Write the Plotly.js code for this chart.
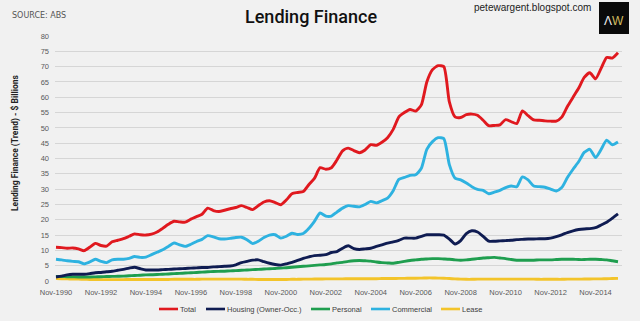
<!DOCTYPE html>
<html>
<head>
<meta charset="utf-8">
<script src="https://cdn.plot.ly/plotly-3.0.1.min.js"></script>
<style>
  html, body { margin: 0; padding: 0; background: #f1f1f1; }
  #chart { width: 640px; height: 321px; }
</style>
</head>
<body>
<div id="chart"></div>
<script>
// Quarterly observations, Nov-1990 .. Nov-2015 ($ billions, trend)
const startYear = 1990, startMonth = 11, nPoints = 101;
const dates = [];
for (let i = 0; i < nPoints; i++) {
  const m0 = (startMonth - 1) + i * 3;
  const y = startYear + Math.floor(m0 / 12);
  const m = (m0 % 12) + 1;
  dates.push(y + '-' + String(m).padStart(2, '0') + '-01');
}

const seriesNames = ['Total', 'Housing (Owner-Occ.)', 'Personal', 'Commercial', 'Lease'];

const total = [
  11.0, 10.9, 10.7, 10.8,  10.5, 9.9, 11.0, 12.3,  11.6, 11.4, 12.8, 13.3,
  13.8, 14.6, 15.4, 15.1,  15.0, 15.3, 16.0, 17.2,  18.5, 19.5, 19.3, 19.2,
  20.2, 21.0, 21.8, 23.8,  23.0, 22.7, 23.1, 23.6,  24.0, 24.6, 24.0, 23.3,
  24.6, 25.8, 26.2, 25.6,  24.9, 26.5, 28.5, 28.9,  29.2, 31.5, 33.5, 37.0,
  36.5, 37.0, 39.5, 42.5,  43.4, 42.6, 41.9, 42.8,  44.5, 44.3, 45.3, 46.8,
  49.5, 53.6, 55.0, 56.0,  55.5, 57.5, 65.0, 69.0,  70.3, 70.0, 58.5, 53.6,
  53.4, 54.3, 54.5, 54.1,  52.5, 50.7, 50.8, 51.0,  52.7, 52.0, 51.4, 55.5,
  54.0, 52.6, 52.5, 52.3,  52.2, 52.2, 53.5, 57.0,  60.0, 63.0, 66.5, 68.0,
  66.0, 69.5, 73.0, 72.8,  74.5
];

const housing = [
  1.3, 1.6, 2.0, 2.2,  2.2, 2.2, 2.4, 2.7,  2.8, 3.0, 3.2, 3.5,
  3.8, 4.2, 4.5, 4.0,  3.6, 3.6, 3.6, 3.7,  3.8, 3.9, 4.0, 4.1,
  4.2, 4.3, 4.4, 4.4,  4.6, 4.7, 4.8, 4.9,  5.3, 6.0, 6.4, 6.8,
  6.9, 6.3, 5.8, 5.4,  5.2, 5.6, 6.1, 6.7,  7.4, 7.9, 8.3, 8.4,
  8.6, 9.3, 9.6, 10.7,  11.5, 10.6, 10.3, 10.5,  10.7, 11.3, 11.8, 12.4,
  12.8, 13.3, 14.0, 14.0,  14.0, 14.6, 15.1, 15.1,  15.1, 15.0, 13.7, 12.1,
  13.2, 15.5, 16.4, 16.0,  14.6, 13.0, 13.0, 13.1,  13.2, 13.3, 13.5, 13.6,
  13.7, 13.7, 13.8, 13.8,  14.0, 14.5, 15.1, 15.8,  16.4, 16.8, 17.0, 17.1,
  17.4, 18.3, 19.2, 20.5,  21.9
];

const personal = [
  1.5, 1.45, 1.4, 1.35,  1.3, 1.3, 1.3, 1.35,  1.4, 1.45, 1.5, 1.55,
  1.6, 1.7, 1.8, 1.9,  2.0, 2.05, 2.1, 2.2,  2.3, 2.4, 2.5, 2.6,
  2.7, 2.8, 2.9, 3.0,  3.1, 3.15, 3.2, 3.3,  3.4, 3.5, 3.6, 3.7,
  3.8, 3.9, 4.0, 4.1,  4.2, 4.35, 4.5, 4.65,  4.8, 4.95, 5.1, 5.25,
  5.4, 5.6, 5.9, 6.1,  6.4, 6.6, 6.7, 6.6,  6.5, 6.2, 6.0, 5.9,
  5.8, 6.1, 6.4, 6.7,  6.9, 7.1, 7.2, 7.3,  7.3, 7.2, 7.1, 6.9,
  6.8, 6.9, 7.1, 7.3,  7.5, 7.6, 7.7, 7.5,  7.3, 7.0, 6.8, 6.8,
  6.8, 6.8, 6.9, 6.9,  6.9, 7.0, 7.1, 7.1,  7.1, 7.0, 7.0, 7.1,
  7.1, 7.0, 6.9, 6.6,  6.3
];

const commercial = [
  7.1, 6.9, 6.6, 6.4,  6.3, 5.6, 6.2, 7.1,  6.4, 6.0, 6.9, 7.1,
  7.1, 7.4, 8.0, 7.7,  7.8, 8.6, 9.4, 10.2,  11.3, 12.4, 11.8, 11.3,
  12.0, 12.9, 13.6, 14.8,  14.4, 13.8, 13.7, 13.9,  14.2, 14.3, 13.5, 12.2,
  13.0, 14.2, 15.0, 15.1,  14.0, 14.6, 15.6, 15.2,  15.5, 17.2, 19.5, 22.2,
  21.2, 21.2, 22.5, 23.8,  24.6, 24.4, 24.2, 25.0,  26.0, 25.5, 26.2, 27.1,
  29.5, 33.2, 33.8, 34.5,  34.7, 36.8, 43.0, 45.5,  46.8, 46.5, 38.0, 33.6,
  33.0, 32.0, 30.8, 29.9,  29.6, 28.5, 29.0, 29.6,  30.5, 31.0, 30.8, 34.0,
  33.0, 31.0, 30.8, 30.6,  30.0, 29.4, 30.5, 33.8,  36.5, 39.0, 42.0, 43.0,
  40.3, 43.0, 46.0, 44.5,  45.4
];

const lease = [
  0.8, 0.75, 0.7, 0.65,  0.6, 0.55, 0.5, 0.5,  0.45, 0.45, 0.45, 0.45,
  0.45, 0.5, 0.5, 0.5,  0.5, 0.5, 0.5, 0.5,  0.5, 0.55, 0.55, 0.55,
  0.55, 0.55, 0.6, 0.6,  0.6, 0.6, 0.6, 0.6,  0.6, 0.6, 0.55, 0.55,
  0.5, 0.5, 0.5, 0.5,  0.5, 0.5, 0.55, 0.55,  0.6, 0.6, 0.65, 0.65,
  0.7, 0.7, 0.7, 0.7,  0.75, 0.75, 0.75, 0.75,  0.75, 0.75, 0.8, 0.8,
  0.8, 0.85, 0.85, 0.9,  0.9, 0.95, 1.0, 1.0,  0.95, 0.9, 0.8, 0.7,
  0.6, 0.55, 0.55, 0.6,  0.6, 0.6, 0.6, 0.6,  0.6, 0.6, 0.6, 0.6,
  0.6, 0.6, 0.55, 0.55,  0.55, 0.55, 0.55, 0.6,  0.6, 0.6, 0.65, 0.65,
  0.7, 0.7, 0.75, 0.8,  0.85
];

const yTickVals = [0, 5, 10, 15, 20, 25, 30, 35, 40, 45, 50, 55, 60, 65, 70, 75, 80];

const colors = ['#e0191f', '#0f1c52', '#1f9e4f', '#2eb2e0', '#f3c42a'];
const values = [total, housing, personal, commercial, lease];

const labelFont = 'Liberation Sans, Arial, sans-serif';

// plot-area geometry (pixels) used to place the decorations
const L = 55, R = 622, T = 36, B = 281;
const px = x => (x - L) / (R - L);
const py = y => (B - y) / (B - T);

const traces = values.map((v, i) => ({
  type: 'scatter',
  mode: 'lines',
  name: seriesNames[i],
  x: dates,
  y: v,
  line: { color: colors[i], width: 2.9, shape: 'spline', smoothing: 0.6 },
  showlegend: false,
  hoverinfo: 'x+y+name'
}));
const ordered = [traces[4], traces[2], traces[1], traces[3], traces[0]];

// legend key row under the axis (centred on the chart)
const legendLineX = [159, 206, 311, 371, 441];
const legendLen = 19, legendY = 309;
const legendShapes = seriesNames.map((n, i) => ({
  type: 'line', xref: 'paper', yref: 'paper',
  x0: px(legendLineX[i]), x1: px(legendLineX[i] + legendLen),
  y0: py(legendY), y1: py(legendY),
  line: { color: colors[i], width: 2.6 }
}));
const legendTexts = seriesNames.map((n, i) => ({
  text: n, xref: 'paper', yref: 'paper',
  x: px(legendLineX[i] + legendLen), y: py(legendY),
  xanchor: 'left', yanchor: 'middle', showarrow: false,
  font: { family: labelFont, size: 7.5, color: '#404040' }
}));

const layout = {
  width: 640,
  height: 321,
  paper_bgcolor: '#f1f1f1',
  plot_bgcolor: '#f1f1f1',
  margin: { l: L, r: 640 - R, t: T, b: 321 - B, autoexpand: false },
  showlegend: false,
  xaxis: {
    type: 'date',
    range: ['1990-10-16', '2016-01-05'],
    tick0: '1990-11-01',
    dtick: 'M24',
    tickformat: '%b-%Y',
    showgrid: false,
    zeroline: false,
    showline: false,
    ticks: '',
    ticklabelstandoff: 5,
    tickfont: { family: labelFont, size: 7.5, color: '#595959' },
    fixedrange: true
  },
  yaxis: {
    range: [0, 80],
    tickvals: yTickVals,
    ticktext: yTickVals.map(String),
    showgrid: true,
    gridcolor: '#d6d6d6',
    gridwidth: 1,
    zeroline: false,
    showline: false,
    ticks: '',
    ticklabelstandoff: 5,
    tickfont: { family: labelFont, size: 7.5, color: '#595959' },
    fixedrange: true
  },
  shapes: [
    { type: 'rect', xref: 'paper', yref: 'paper',
      x0: px(599), x1: px(629), y0: py(34), y1: py(2),
      fillcolor: '#0a0a0a', line: { width: 0 } }
  ].concat(legendShapes),
  annotations: [
    { text: 'Lending Finance', xref: 'paper', yref: 'paper',
      x: px(311), y: py(17), xanchor: 'center', yanchor: 'middle',
      showarrow: false, font: { family: 'Roboto, Arial, sans-serif', size: 18, color: '#111111', weight: 500 } },
    { text: 'SOURCE: ABS', xref: 'paper', yref: 'paper',
      x: px(10), y: py(15), xanchor: 'left', yanchor: 'middle',
      showarrow: false, font: { family: 'DejaVu Sans, sans-serif', size: 8, color: '#555555' } },
    { text: 'petewargent.blogspot.com', xref: 'paper', yref: 'paper',
      x: px(593), y: py(8), xanchor: 'right', yanchor: 'middle',
      showarrow: false, font: { family: 'Liberation Sans, Arial, sans-serif', size: 10, color: '#222222' } },
    { text: '<span style="color:#eeeeee">Λ</span><span style="color:#d2bd5e">W</span>', xref: 'paper', yref: 'paper',
      x: px(614), y: py(21), xanchor: 'center', yanchor: 'middle',
      showarrow: false, font: { family: 'Liberation Sans, Arial, sans-serif', size: 12, color: '#ffffff' } },
    { text: 'Lending Finance (Trend) - $ Billions', xref: 'paper', yref: 'paper',
      x: px(15), y: py(143), xanchor: 'center', yanchor: 'middle',
      textangle: -90, showarrow: false,
      font: { family: 'Roboto, Arial, sans-serif', size: 8.5, color: '#222222', weight: 'bold' } }
  ].concat(legendTexts)
};

Plotly.newPlot('chart', ordered, layout, { displayModeBar: false, staticPlot: true });
</script>
</body>
</html>
